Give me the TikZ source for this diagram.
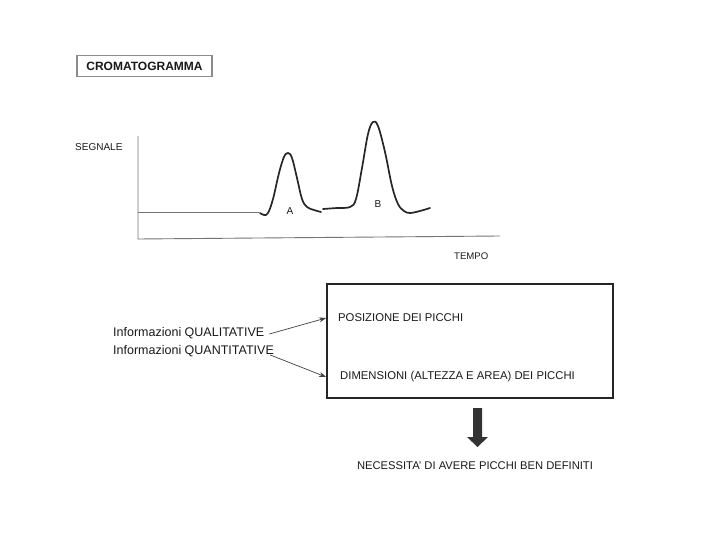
\documentclass[tikz,border=0pt]{standalone}
\usepackage{fontspec}
\setmainfont{Liberation Sans}
\usetikzlibrary{arrows.meta}
\begin{document}
\begin{tikzpicture}[x=1pt,y=-1pt,
  lbl/.style={inner sep=0pt, text=black!90},
  axis/.style={draw=black!55, line width=0.9pt},
  curve/.style={draw=black!85, line width=1.7pt, line cap=round, line join=round},
  thinarrow/.style={draw=black!75, line width=0.7pt, -{Stealth[length=7pt,width=5pt]}}]
\useasboundingbox (0,0) rectangle (720,540);
% title
\node[lbl, draw=black!45, line width=1.8pt, minimum width=135pt, minimum height=21pt, font=\fontsize{12}{14}\selectfont\bfseries] (title) at (144.5,66) {CROMATOGRAMMA};
% axes
\coordinate (o) at (138,239);
\coordinate (ytop) at (138,136);
\coordinate (xend) at (500,236);
\draw[axis] (ytop) -- (o) -- (xend);
\node[lbl, anchor=west, font=\fontsize{10}{12}\selectfont] (seg) at (75,147) {SEGNALE};
\node[lbl, anchor=west, font=\fontsize{9.6}{12}\selectfont] (tempo) at (454,256) {TEMPO};
% baseline
\coordinate (b0) at (138,212);
\coordinate (b1) at (259,212);
\draw[axis] (b0) -- (b1);
% peak A
\draw[curve] plot[smooth, tension=0.6] coordinates {(260,213) (264,215) (268,213) (273,199) (279,173) (284,157) (288,153) (292,158) (297,178) (302,199) (307,207) (314,210) (321,212)};
% peak B
\draw[curve] plot[smooth, tension=0.6] coordinates {(323,209) (337,208) (350,207) (356,199) (362,168) (368,134) (373,122) (378,126) (385,152) (392,186) (398,204) (404,211) (410,213) (420,211) (430,208)};
\node[lbl, font=\fontsize{10}{12}\selectfont] (A) at (290,211) {A};
\node[lbl, font=\fontsize{10}{12}\selectfont] (B) at (378,204) {B};
% box
\node[draw=black!85, line width=1.8pt, minimum width=286pt, minimum height=114pt, inner sep=0pt] (box) at (470,341) {};
\node[lbl, anchor=west, font=\fontsize{11.3}{13}\selectfont] (pos) at (338,318) {POSIZIONE DEI PICCHI};
\node[lbl, anchor=west, font=\fontsize{11.3}{13}\selectfont] (dim) at (340,377) {DIMENSIONI (ALTEZZA E AREA) DEI PICCHI};
% left labels
\node[lbl, anchor=west, font=\fontsize{12.5}{14}\selectfont] (qual) at (113,333) {Informazioni QUALITATIVE};
\node[lbl, anchor=west, font=\fontsize{12.5}{14}\selectfont] (quant) at (113,351) {Informazioni QUANTITATIVE};
\draw[thinarrow] ([xshift=5pt,yshift=-1pt]qual.east) -- (box.west |- pos.west);
\draw[thinarrow] ([xshift=-4pt,yshift=2pt]quant.south east) -- (box.west |- dim.west);
% block arrow
\fill[black!80] (473,408) -- (482,408) -- (482,437) -- (488,437) -- (477.5,447) -- (467,437) -- (473,437) -- cycle;
\node[lbl, font=\fontsize{11.2}{13}\selectfont] (nec) at (475,466) {NECESSITA' DI AVERE PICCHI BEN DEFINITI};
\end{tikzpicture}
\end{document}
